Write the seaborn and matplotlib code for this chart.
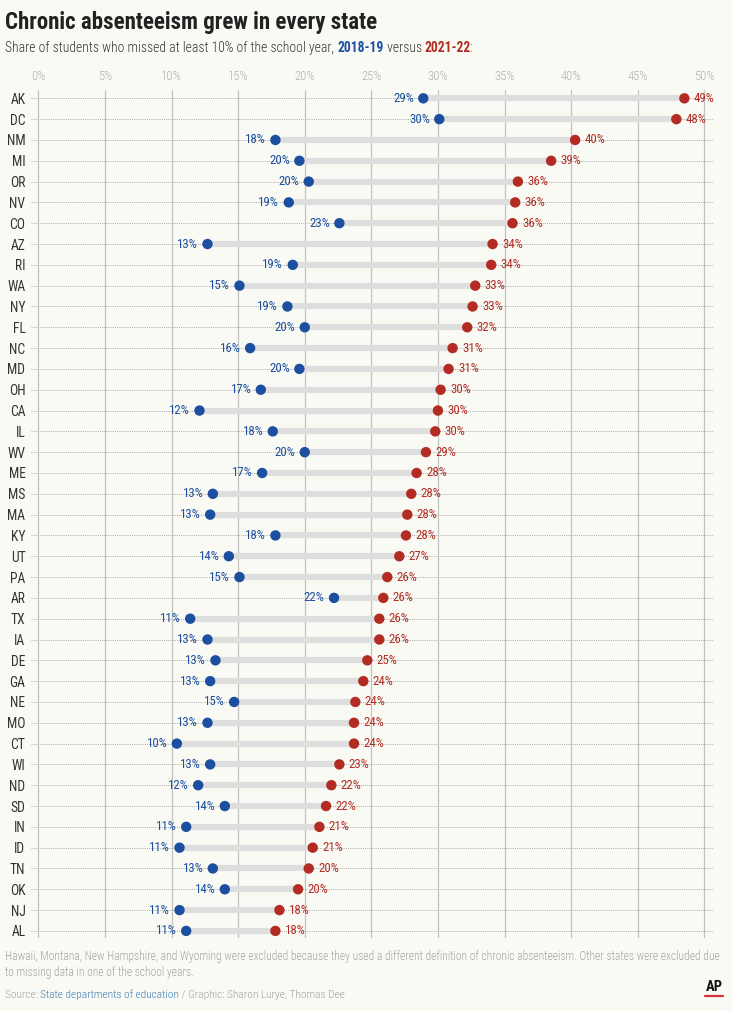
import numpy as np
import pandas as pd
import matplotlib
matplotlib.use("Agg")
import matplotlib.pyplot as plt
import seaborn as sns
from matplotlib import font_manager as fm

# ---------------- data ----------------
states = ["AK", "DC", "NM", "MI", "OR", "NV", "CO", "AZ", "RI", "WA", "NY", "FL", "NC", "MD",
          "OH", "CA", "IL", "WV", "ME", "MS", "MA", "KY", "UT", "PA", "AR", "TX", "IA", "DE",
          "GA", "NE", "MO", "CT", "WI", "ND", "SD", "IN", "ID", "TN", "OK", "NJ", "AL"]
v2019 = [28.9, 30.1, 17.8, 19.6, 20.3, 18.8, 22.6, 12.7, 19.1, 15.1, 18.7, 20.0, 15.9, 19.6,
         16.7, 12.1, 17.6, 20.0, 16.8, 13.1, 12.9, 17.8, 14.3, 15.1, 22.2, 11.4, 12.7, 13.3,
         12.9, 14.7, 12.7, 10.4, 12.9, 12.0, 14.0, 11.1, 10.6, 13.1, 14.0, 10.6, 11.1]
v2022 = [48.5, 47.9, 40.3, 38.5, 36.0, 35.8, 35.6, 34.1, 34.0, 32.8, 32.6, 32.2, 31.1, 30.8,
         30.2, 30.0, 29.8, 29.1, 28.4, 28.0, 27.7, 27.6, 27.1, 26.2, 25.9, 25.6, 25.6, 24.7,
         24.4, 23.8, 23.7, 23.7, 22.6, 22.0, 21.6, 21.1, 20.6, 20.3, 19.5, 18.1, 17.8]
years = ["2018-19", "2021-22"]
xticks = [0, 5, 10, 15, 20, 25, 30, 35, 40, 45, 50]

BLUE = "#1c4f9f"
RED = "#b22c24"
BG = "#fafaf5"

# ---------------- fonts ----------------
names = {f.name for f in fm.fontManager.ttflist}
cond = None
for c in ["Roboto Condensed", "Liberation Sans Narrow", "DejaVu Sans Condensed", "Open Sans Condensed"]:
    if c in names:
        cond = c
        break

sns.set_theme(style="white")
if cond:
    plt.rcParams["font.family"] = [cond, "DejaVu Sans"]
    STRETCH = "normal"
else:
    plt.rcParams["font.family"] = ["DejaVu Sans"]
    STRETCH = "condensed"
plt.rcParams["font.stretch"] = STRETCH

df = pd.DataFrame({
    "state": states * 2,
    "value": v2019 + v2022,
    "year": [years[0]] * len(states) + [years[1]] * len(states),
})

W, H = 732, 1011
fig = plt.figure(figsize=(W / 100, H / 100), dpi=100, facecolor=BG)
ax = fig.add_axes([31 / W, 1 - 938 / H, 682 / W, 848 / H])
ax.set_facecolor(BG)

n = len(states)
pos = np.arange(n)
ax.hlines(pos, v2019, v2022, color="#dedede", lw=4.5, zorder=2)

sns.stripplot(data=df, x="value", y="state", hue="year", order=states,
              hue_order=years, palette=[BLUE, RED], jitter=False, size=7.5,
              linewidth=0, ax=ax, legend=False, zorder=3)

ax.set_xlim(-0.55, 50.65)
ax.set_ylim(n - 1 + 0.34, -0.4)
ax.set_xticks(xticks)
ax.set_xticklabels([f"{t}%" for t in xticks], fontweight="light")
ax.xaxis.tick_top()
ax.tick_params(axis="x", length=0, pad=5, labelsize=9.2, labelcolor="#b0b0b0")
ax.tick_params(axis="y", length=0, pad=4, labelsize=9.8, labelcolor="#333333")
ax.set_xlabel("")
ax.set_ylabel("")
for s in ax.spines.values():
    s.set_visible(False)
ax.set_axisbelow(True)
ax.xaxis.grid(True, color="#c2c2c2", lw=0.9, zorder=0)
ax.yaxis.grid(True, color="#a8a8a8", lw=0.7, linestyle=(0, (1, 1.2)), zorder=0)


def lab(v):
    return f"{int(np.floor(v + 0.5))}%"


for i, (a, b) in enumerate(zip(v2019, v2022)):
    ax.annotate(lab(a), (a, i), xytext=(-6.8, 0), textcoords="offset points",
                ha="right", va="center", color=BLUE, fontsize=9.3, zorder=4)
    ax.annotate(lab(b), (b, i), xytext=(6.8, 0), textcoords="offset points",
                ha="left", va="center", color=RED, fontsize=9.3, zorder=4)

# ---------------- titles & notes ----------------
fig.text(5 / W, 1 - 29 / H, "Chronic absenteeism grew in every state", fontsize=16.5,
         fontweight="bold", color="#222222", va="baseline", ha="left")

renderer = fig.canvas.get_renderer()


def seq(x, y, parts, size):
    for txt, col, wt, nudge in parts:
        x += nudge / W
        t = fig.text(x, y, txt, fontsize=size, color=col, fontweight=wt,
                     va="baseline", ha="left")
        bb = t.get_window_extent(renderer=renderer)
        x = bb.x1 / W


seq(5 / W, 1 - 52 / H, [
    ("Share of students who missed at least 10% of the school year, ", "#333333", "light", 0),
    ("2018-19", BLUE, "bold", 0),
    (" versus ", "#333333", "light", 0),
    ("2021-22", RED, "bold", 0),
    (":", "#333333", "light", -2),
], 9.8)

fig.text(5 / W, 1 - 960 / H,
         "Hawaii, Montana, New Hampshire, and Wyoming were excluded because they used a different "
         "definition of chronic absenteeism. Other states were excluded due",
         fontsize=8.3, color="#a3a3a3", va="baseline", fontweight="light")
fig.text(5 / W, 1 - 976 / H, "to missing data in one of the school years.",
         fontsize=8.3, color="#a3a3a3", va="baseline", fontweight="light")
seq(5 / W, 1 - 998 / H, [
    ("Source: ", "#a0a0a0", "light", 0),
    ("State departments of education", "#3a7db5", "light", 0),
    (" / Graphic: Sharon Lurye, Thomas Dee", "#a0a0a0", "light", 0),
], 8.2)

fig.text(714 / W, 1 - 991 / H, "AP", fontsize=10.5, fontweight="bold", color="#111111",
         ha="center", va="baseline")
fig.add_artist(plt.Line2D([705 / W, 723 / W], [1 - 996 / H, 1 - 996 / H], color="#d6303a", lw=1.6))

fig.savefig("out.png", dpi=100, facecolor=BG)
